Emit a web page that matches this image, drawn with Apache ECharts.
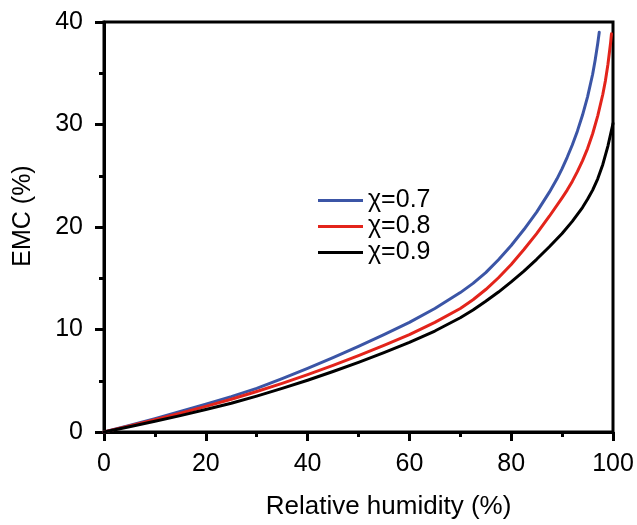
<!DOCTYPE html>
<html>
<head>
<meta charset="utf-8">
<script src="https://cdn.jsdelivr.net/npm/echarts@6/dist/echarts.min.js"></script>
<style>
html,body{margin:0;padding:0;background:#fff;}
#chart{width:637px;height:525px;}
</style>
</head>
<body>
<div id="chart"></div>
<script>
// Data
var seriesNames = ['\u03C7=0.7', '\u03C7=0.8', '\u03C7=0.9'];
var rh07  = [0, 5, 10, 15, 20, 25, 30, 35, 40, 45, 50, 55, 60, 65, 70, 72.5, 75, 77.5, 80, 82.5, 85, 87.5, 89, 90, 91, 92, 93, 94, 95, 96, 96.5, 97, 97.3];
var emc07 = [0, 0.64, 1.3, 2.0, 2.72, 3.45, 4.25, 5.2, 6.2, 7.25, 8.35, 9.5, 10.7, 12.05, 13.6, 14.5, 15.55, 16.8, 18.2, 19.75, 21.45, 23.4, 24.7, 25.7, 26.8, 28.0, 29.35, 30.9, 32.7, 34.9, 36.3, 37.9, 39.0];
var rh08  = [0, 5, 10, 15, 20, 25, 30, 35, 40, 45, 50, 55, 60, 65, 70, 72.5, 75, 77.5, 80, 82.5, 85, 87.5, 90, 91, 92, 93, 94, 95, 96, 97, 98, 98.5, 99, 99.5, 99.7];
var emc08 = [0, 0.6, 1.2, 1.83, 2.5, 3.2, 3.95, 4.75, 5.6, 6.5, 7.45, 8.45, 9.5, 10.7, 12.05, 12.9, 13.9, 15.05, 16.35, 17.8, 19.35, 21.05, 22.85, 23.6, 24.45, 25.4, 26.45, 27.65, 29.1, 30.85, 32.95, 34.25, 35.85, 37.85, 38.85];
var rh09  = [0, 5, 10, 15, 20, 25, 30, 35, 40, 45, 50, 55, 60, 65, 70, 72.5, 75, 77.5, 80, 82.5, 85, 87.5, 90, 92, 94, 95, 96, 97, 98, 99, 100];
var emc09 = [0, 0.52, 1.05, 1.6, 2.2, 2.8, 3.5, 4.25, 5.05, 5.9, 6.8, 7.75, 8.75, 9.85, 11.15, 11.9, 12.75, 13.65, 14.65, 15.7, 16.85, 18.07, 19.37, 20.55, 21.9, 22.7, 23.6, 24.7, 26.1, 27.9, 30.1];
var colors = ['#3B55A6', '#E3241B', '#000000'];

function pairs(xs, ys) { return xs.map(function (x, i) { return [x, ys[i]]; }); }
var allData = [pairs(rh07, emc07), pairs(rh08, emc08), pairs(rh09, emc09)];

var FONT = '"Liberation Sans", Arial, Helvetica, sans-serif';
var chart = echarts.init(document.getElementById('chart'), null, {renderer: 'canvas'});

var axisCommon = {
  axisLine: {show: true, onZero: false, lineStyle: {color: '#000', width: 3}},
  axisTick: {show: true, inside: false, length: 9, lineStyle: {color: '#000', width: 3}},
  minorTick: {show: true, splitNumber: 2, length: 5, lineStyle: {color: '#000', width: 3}},
  splitLine: {show: false},
  axisLabel: {color: '#000', fontSize: 25, fontFamily: FONT}
};

chart.setOption({
  animation: false,
  backgroundColor: '#fff',
  grid: {left: 104, right: 24, top: 22, bottom: 90, show: true, borderColor: '#000', borderWidth: 3, containLabel: false},
  legend: {
    orient: 'vertical', left: 313, top: 183, itemGap: 1,
    itemWidth: 45, itemHeight: 3, icon: 'rect',
    textStyle: {color: '#000', fontSize: 25, fontFamily: FONT},
    data: seriesNames
  },
  xAxis: Object.assign({}, axisCommon, {
    type: 'value', min: 0, max: 100, interval: 20,
    name: 'Relative humidity (%)', nameLocation: 'middle', nameGap: 62,
    nameTextStyle: {color: '#000', fontSize: 26, fontFamily: FONT, padding: [0, 0, 0, 60]},
    axisLabel: {color: '#000', fontSize: 25, fontFamily: FONT, margin: 20}
  }),
  yAxis: Object.assign({}, axisCommon, {
    type: 'value', min: 0, max: 40, interval: 10,
    name: 'EMC (%)', nameLocation: 'middle', nameGap: 68,
    nameTextStyle: {color: '#000', fontSize: 25, fontFamily: FONT, padding: [0, 0, 0, 22]},
    axisLabel: {color: '#000', fontSize: 25, fontFamily: FONT, margin: 21}
  }),
  series: allData.map(function (d, i) {
    return {
      name: seriesNames[i], type: 'line', data: d,
      smooth: false, showSymbol: false, clip: true,
      lineStyle: {color: colors[i], width: 3, join: 'round', cap: 'round'},
      itemStyle: {color: colors[i]}
    };
  })
});
</script>
</body>
</html>
